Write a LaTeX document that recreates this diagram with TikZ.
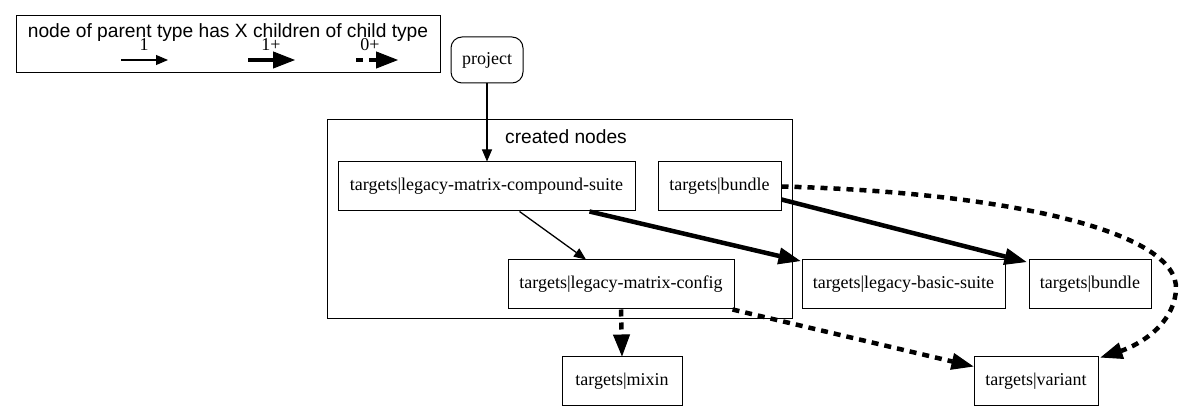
\documentclass[tikz,border=0pt]{standalone}
\usepackage{fontspec}
\setmainfont{Liberation Serif}
\newfontfamily\hv{Liberation Sans}
\usetikzlibrary{arrows.meta}
\begin{document}
\begin{tikzpicture}[x=1pt,y=-1pt,
  box/.style={draw, line width=1pt, minimum height=49pt, inner sep=0pt, font=\fontsize{18}{20}\selectfont},
  lbl/.style={inner sep=0pt, font=\fontsize{18}{20}\selectfont},
  sanslbl/.style={inner sep=0pt, font=\hv\fontsize{19.2}{22}\selectfont},
  one/.style={line width=1.3pt, -{Triangle[length=12pt,width=10pt,line width=1pt]}},
  many/.style={line width=4.5pt, -{Triangle[length=22pt,width=17pt,line width=1pt]}},
  any/.style={line width=4.5pt, dash pattern=on 7pt off 6pt, -{Triangle[length=22pt,width=17pt,line width=1pt]}},
]
\useasboundingbox (0,0) rectangle (1181,411);
% legend
\draw[line width=1pt] (16,16) rectangle (440,73);
\node[sanslbl] (ltitle) at (228,33) {node of parent type has X children of child type};
\node[lbl] (l1) at (144,45) {1};
\node[lbl] (l2) at (271,45) {1+};
\node[lbl] (l3) at (370,45) {0+};
\coordinate (a1s) at (121,60); \coordinate (a1e) at (168,60);
\coordinate (a2s) at (248,60); \coordinate (a2e) at (295,60);
\coordinate (a3s) at (356,60); \coordinate (a3e) at (398,60);
\draw[one] (a1s) -- (a1e);
\draw[many] (a2s) -- (a2e);
\draw[any] (a3s) -- (a3e);
% project
\node[box, rounded corners=11pt, minimum width=72pt, minimum height=46pt] (project) at (487,60) {project};
% cluster
\draw[line width=1pt] (327,120) rectangle (792,319);
\node[sanslbl] (clabel) at (566,137) {created nodes};
% nodes
\node[box, minimum width=297pt] (cs) at (486.5,186.5) {targets|legacy-matrix-compound-suite};
\node[box, minimum width=123pt] (bundle) at (719.5,186.5) {targets|bundle};
\node[box, minimum width=226pt] (cfg) at (621,284.5) {targets|legacy-matrix-config};
\node[box, minimum width=203pt] (basic) at (903.5,284) {targets|legacy-basic-suite};
\node[box, minimum width=122pt] (bundle2) at (1090,284) {targets|bundle};
\node[box, minimum width=120pt] (mixin) at (622,381.5) {targets|mixin};
\node[box, minimum width=124pt] (variant) at (1036,381.5) {targets|variant};
% edges
\draw[one] (project.south) -- (project.south |- cs.north);
\draw[one] ([xshift=33pt]cs.south) -- ([xshift=-35pt]cfg.north);
\draw[many] ([xshift=103pt]cs.south) -- ([xshift=-1pt,yshift=-2pt]basic.north west);
\draw[many] ([yshift=-13pt]bundle.east) -- ([xshift=-2pt,yshift=-3pt]bundle2.north west);
\draw[any] (bundle.east) .. controls (1000,192) and (1180,230) .. (1176,290) .. controls (1173,330) and (1130,348) .. ([xshift=2pt,yshift=-1pt]variant.north east);
\draw[any] (cfg.south) -- (mixin.north);
\draw[any] ([xshift=-2pt]cfg.south east) -- ([yshift=15pt]variant.west);
\end{tikzpicture}
\end{document}
